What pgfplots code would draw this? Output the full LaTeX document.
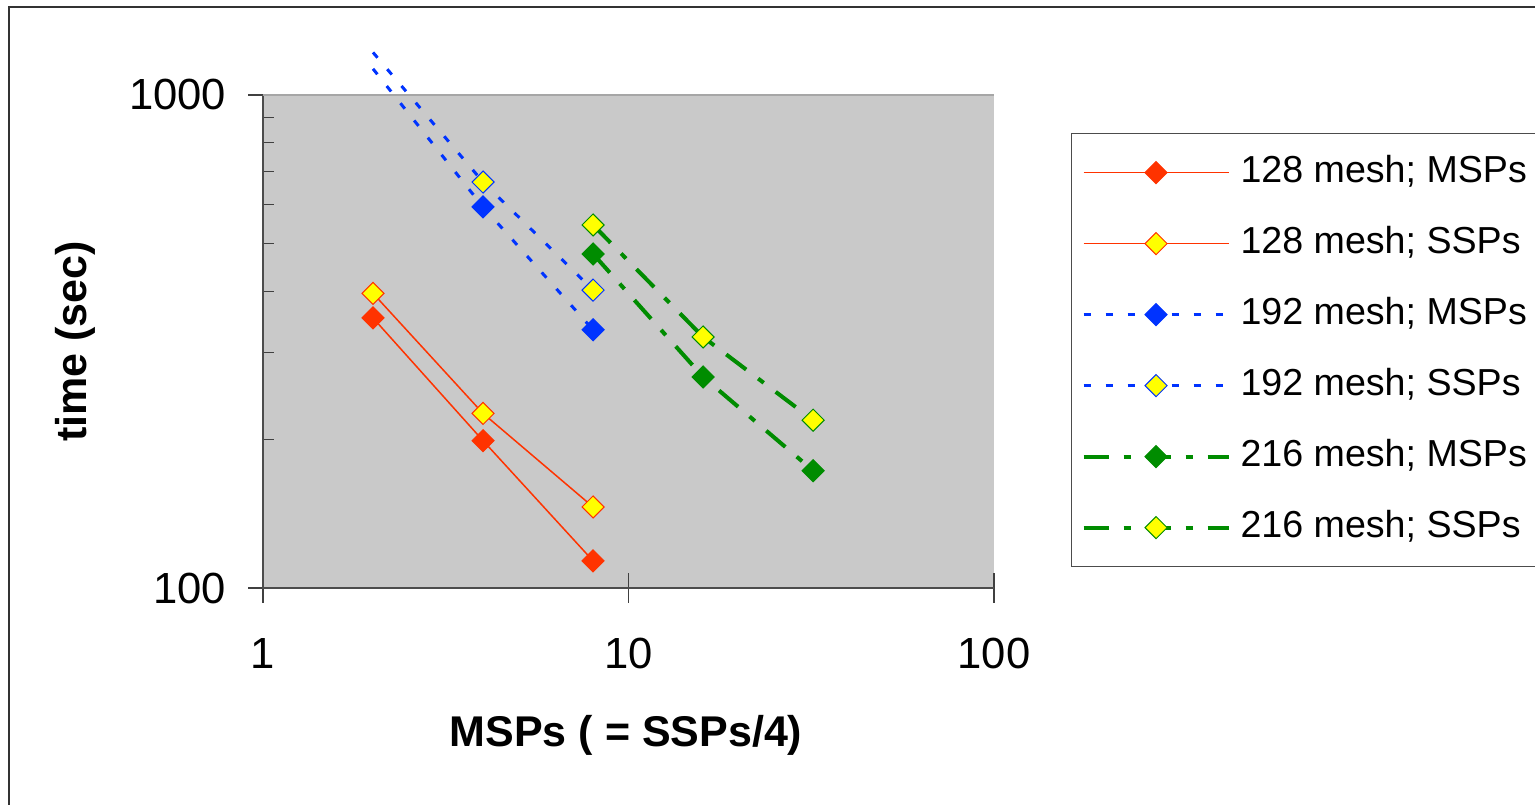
\documentclass[border=0pt]{standalone}
\usepackage{fontspec}
\setmainfont{Liberation Sans}
\usepackage{pgfplots}
\pgfplotsset{compat=1.18}

\definecolor{xlred}{HTML}{FF3300}
\definecolor{xlblue}{HTML}{0033FF}
\definecolor{xlgreen}{HTML}{008C00}
\definecolor{xlyellow}{HTML}{FFFF00}
\definecolor{plotgray}{HTML}{C9C9C9}

\pgfplotsset{
  redline/.style={draw=xlred, line width=0.75pt, mark=square*, mark size=3.9pt},
  blueline/.style={draw=xlblue, line width=1.5pt, dash pattern=on 3.5pt off 7.5pt, mark=square*, mark size=3.9pt},
  greenline/.style={draw=xlgreen, line width=2pt, dash pattern=on 12.5pt off 7.5pt on 3.5pt off 7.5pt, mark=square*, mark size=3.9pt},
}

\begin{document}
\begin{tikzpicture}
\useasboundingbox (-131.5pt,-108pt) rectangle (636pt,294pt);
\draw[line width=1.3pt, draw=black!80] (-127pt,-115pt) -- (-127pt,290.5pt) -- (645pt,290.5pt);
\begin{axis}[
  at={(0,0)}, anchor=south west,
  xmode=log, ymode=log,
  scale only axis, width=365.5pt, height=246.5pt,
  xmin=1, xmax=100, ymin=100, ymax=1000,
  clip=false,
  axis background/.style={fill=plotgray},
  axis line style={draw=none},
  xtick={1,10,100}, xticklabels={1,10,100},
  ytick={100,1000}, yticklabels={100,1000},
  minor ytick={200,300,400,500,600,700,800,900},
  xtick pos=bottom, ytick pos=left,
  tick align=center,
  major tick length=15pt,
  minor tick length=5.5pt,
  minor y tick style={xshift=2.75pt},
  minor x tick style={draw=none},
  tick style={draw=black!75, line width=0.6pt},
  ticklabel style={font=\fontsize{21.8}{26}\selectfont},
  xticklabel style={yshift=-14pt},
  yticklabel style={xshift=-7.5pt},
  xlabel={\bfseries MSPs ( = SSPs/4)},
  ylabel={\bfseries time (sec)},
  label style={font=\fontsize{21.5}{25}\selectfont},
  xlabel style={at={(axis description cs:0.4966,-0.298)}, anchor=center},
  ylabel style={at={(axis description cs:-0.257,0.5)}, anchor=center, rotate=0},
  legend style={at={(axis description cs:1.1053,0.9229)}, anchor=north west,
    draw=black!70, line width=0.6pt, fill=white,
    font=\fontsize{18.8}{22}\selectfont,
    inner xsep=5pt, inner ysep=10.5pt, row sep=17.5pt,
    nodes={inner sep=0pt, text height=14pt, text depth=4pt},
    /tikz/every odd column/.style={column sep=5pt}},
  legend cell align=left,
  legend image code/.code={\draw[mark=none] (0pt,0pt) -- (72.5pt,0pt);
    \draw[solid] plot coordinates {(36.25pt,0pt)};},
]
\draw[black!70, line width=0.6pt] (rel axis cs:0,1) -- (rel axis cs:0,0) -- (rel axis cs:1,0);
\draw[black!35, line width=0.6pt] (rel axis cs:0,1) -- (rel axis cs:1,1);

% 128 mesh
\addplot[redline, mark options={rotate=45, solid, fill=xlred, draw=xlred, line width=0.5pt}]
  coordinates {(2,353) (4,199) (8,113.5)};
\addlegendentry{128 mesh; MSPs}
\addplot[redline, mark options={rotate=45, solid, fill=xlyellow, draw=xlred, line width=0.5pt}]
  coordinates {(2,396) (4,226) (8,146)};
\addlegendentry{128 mesh; SSPs}

% 192 mesh (value at 2 MSPs lies above the axis, no marker there)
\addplot[blueline, mark=none, forget plot] coordinates {(2,1130) (4,593)};
\addplot[blueline, forget plot, mark=none] coordinates {(2,1220) (4,666)};
\addplot[blueline, mark options={rotate=45, solid, fill=xlblue, draw=xlblue, line width=0.5pt}]
  coordinates {(4,593) (8,334)};
\addlegendentry{192 mesh; MSPs}
\addplot[blueline, mark options={rotate=45, solid, fill=xlyellow, draw=xlblue, line width=0.5pt}]
  coordinates {(4,666) (8,402)};
\addlegendentry{192 mesh; SSPs}

% 216 mesh
\addplot[greenline, mark options={rotate=45, solid, fill=xlgreen, draw=xlgreen, line width=0.5pt}]
  coordinates {(8,476) (16,268) (32,173)};
\addlegendentry{216 mesh; MSPs}
\addplot[greenline, mark options={rotate=45, solid, fill=xlyellow, draw=xlgreen, line width=0.5pt}]
  coordinates {(8,545) (16,323) (32,219)};
\addlegendentry{216 mesh; SSPs}
\end{axis}
\end{tikzpicture}
\end{document}
